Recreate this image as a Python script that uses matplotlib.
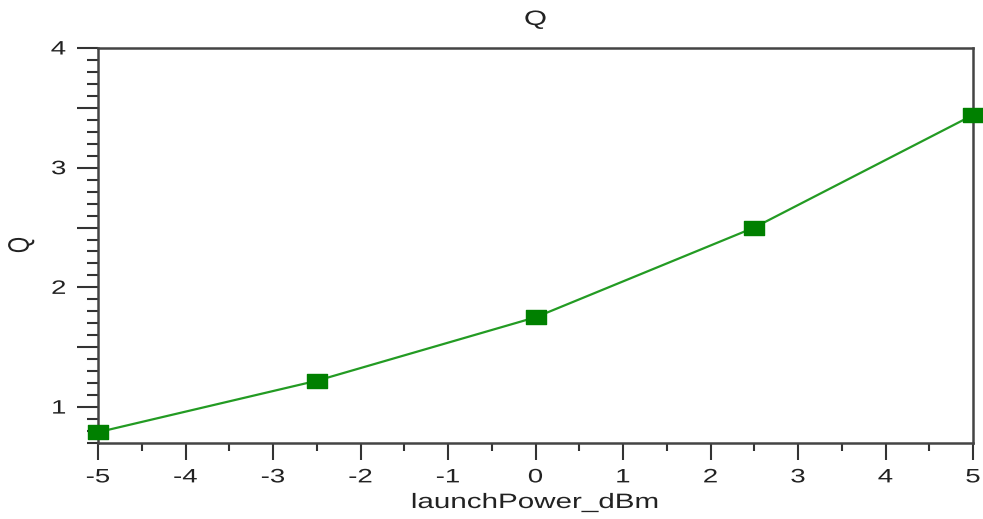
import matplotlib
matplotlib.use("Agg")
import matplotlib.pyplot as plt
from matplotlib.path import Path
from matplotlib.transforms import Affine2D
from matplotlib import patheffects
from matplotlib.ticker import MultipleLocator, FixedLocator, FuncFormatter

launch_power = [-5, -2.5, 0, 2.5, 5]
q_values = [0.79, 1.22, 1.75, 2.50, 3.44]
title_text = 'Q'
x_label = 'launchPower_dBm'
y_label = 'Q'

plt.rcParams['font.family'] = ['Liberation Sans', 'DejaVu Sans']

SX = 1.42


class StretchX(patheffects.AbstractPathEffect):
    """Widen rendered text horizontally (the reference image is stretched)."""
    def __init__(self, sx, anchor='center'):
        super().__init__()
        self.sx = sx
        self.anchor = anchor

    def draw_path(self, renderer, gc, tpath, affine, rgbFace=None):
        ext = tpath.get_extents(affine)
        if self.anchor == 'right':
            a = ext.x1
        elif self.anchor == 'left':
            a = ext.x0
        else:
            a = 0.5 * (ext.x0 + ext.x1)
        aff = affine + Affine2D().translate(-a, 0).scale(self.sx, 1).translate(a, 0)
        renderer.draw_path(gc, tpath, aff, rgbFace)


fig = plt.figure(figsize=(9.83, 5.19), dpi=100)
ax = fig.add_axes([98/983, 1-443/519, (973-98)/983, (443-48)/519])

rect = Path([(-1.45, -1), (1.45, -1), (1.45, 1), (-1.45, 1), (-1.45, -1)],
            [Path.MOVETO, Path.LINETO, Path.LINETO, Path.LINETO, Path.CLOSEPOLY])
ax.plot(launch_power, q_values, color='#239b23', lw=1.6, zorder=2, clip_on=False)
ax.plot(launch_power, q_values, ls='none', marker=rect, ms=14, color='#008000',
        mec='#008000', zorder=3, clip_on=False)

ax.set_xlim(-5, 5)
ax.set_ylim(0.7, 4)
ax.xaxis.set_major_locator(MultipleLocator(1))
ax.xaxis.set_minor_locator(MultipleLocator(0.5))
ax.yaxis.set_major_locator(FixedLocator([1, 1.5, 2, 2.5, 3, 3.5, 4]))
ax.yaxis.set_minor_locator(MultipleLocator(0.1))
ax.yaxis.set_major_formatter(FuncFormatter(lambda v, p: f"{int(round(v))}" if abs(v - round(v)) < 1e-6 else ""))
ax.xaxis.set_major_formatter(FuncFormatter(lambda v, p: f"{int(round(v))}"))

ax.tick_params(axis='y', which='major', length=15, width=1.5, color='#333333',
               labelsize=14, pad=8, labelcolor='#222222')
ax.tick_params(axis='y', which='minor', length=8, width=1.5, color='#333333')
ax.tick_params(axis='x', which='major', length=12, width=1.5, color='#333333',
               labelsize=14, pad=7, labelcolor='#222222')
ax.tick_params(axis='x', which='minor', length=6, width=1.5, color='#333333')
for s in ax.spines.values():
    s.set_color('#444444')
    s.set_linewidth(1.8)

cx = (98 + 973) / 2 / 983
fig.text(cx, 1 - 25/519, title_text, ha='center', va='baseline', fontsize=15,
         color='#222222', path_effects=[StretchX(SX)])
fig.text(cx, 1 - 508/519, x_label, ha='center', va='baseline', fontsize=15,
         color='#222222', path_effects=[StretchX(SX)])
fig.text(21/983, 1 - 245/519, y_label, ha='center', va='center', rotation=90,
         fontsize=15, color='#222222', path_effects=[StretchX(SX)])

fig.canvas.draw()
for t in ax.xaxis.get_major_ticks():
    t.label1.set_path_effects([StretchX(SX, 'center')])
for t in ax.yaxis.get_major_ticks():
    t.label1.set_path_effects([StretchX(SX, 'right')])

fig.savefig('out.png', dpi=100)
